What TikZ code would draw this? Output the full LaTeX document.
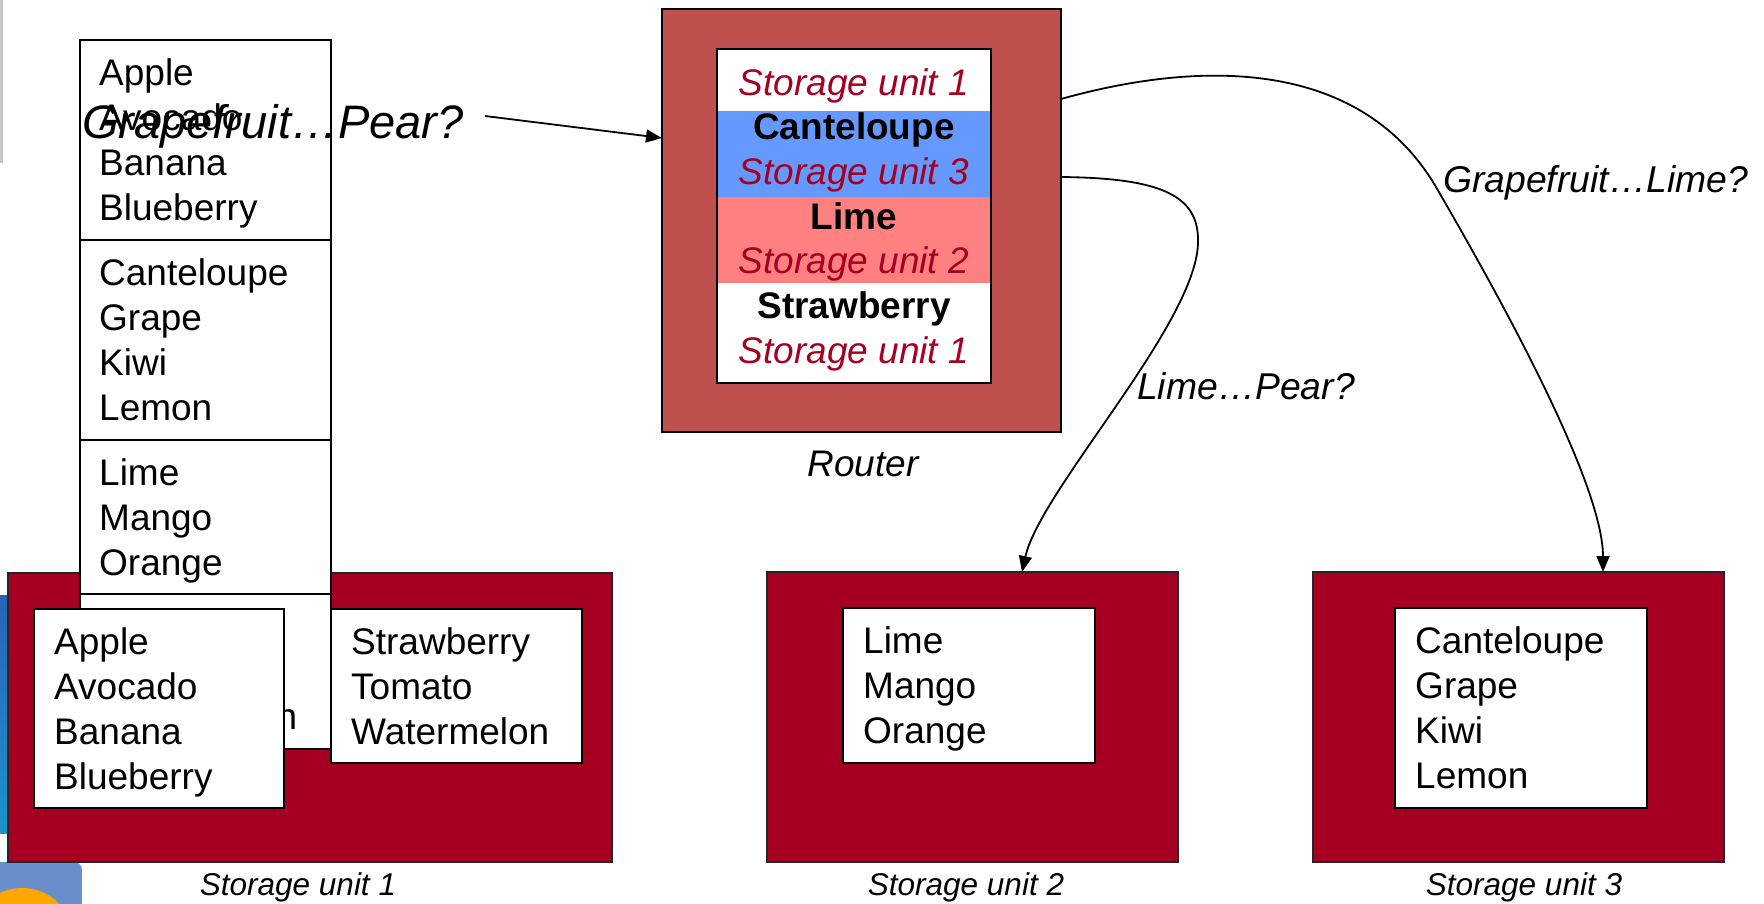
\documentclass[tikz,border=0pt]{standalone}
\usepackage{fontspec}
\setmainfont{Liberation Sans}
\usetikzlibrary{arrows.meta,calc}

\definecolor{unitred}{HTML}{A50021}
\definecolor{routerred}{HTML}{C0504D}
\definecolor{rowblue}{HTML}{6699FF}
\definecolor{rowpink}{HTML}{FF8080}
\definecolor{keyred}{HTML}{A50021}
\definecolor{iconblue}{HTML}{6A8DCB}
\definecolor{stripblue}{HTML}{2A63B5}

% left-aligned list whose baseline is that of its first line
\newcommand\fruitlist[1]{\vtop{\baselineskip=45pt\lineskiplimit=-100pt\lineskip=0pt
  \halign{##\hfil\cr#1\crcr}}}
% centred list for the routing table
\newcommand\routelist[1]{\vtop{\baselineskip=44.7pt\lineskiplimit=-100pt\lineskip=0pt
  \halign{\hfil##\hfil\cr#1\crcr}}}
\newcommand\unitkey[1]{\textcolor{keyred}{\itshape #1}}

\tikzset{
  panel/.style={anchor=north west, inner sep=0pt, outer sep=0pt},
  listbox/.style={panel, draw=black, line width=1.6pt, fill=white},
  unitbox/.style={panel, draw=black!85, line width=1.6pt, fill=unitred},
  band/.style={panel, draw=none},
  fruittext/.style={anchor=base west, inner sep=0pt, font=\fontsize{37}{45}\selectfont},
  caption/.style={anchor=base, inner sep=0pt, font=\fontsize{31.5}{38}\selectfont\itshape},
  edgelabel/.style={anchor=base west, inner sep=0pt, font=\fontsize{37.3}{44}\selectfont\itshape},
  conn/.style={line width=1.8pt, -{Triangle[length=16pt,width=13pt]}},
}

\begin{document}
\begin{tikzpicture}[x=1pt,y=-1pt]
\useasboundingbox (0,0) rectangle (1764,903);

% desktop fragments along the left edge
\fill[gray!45] (0,0) rectangle (3,163);
\shade[top color=stripblue, bottom color=stripblue!70!cyan] (0,595) rectangle (8,833);
\begin{scope}
  \clip[rounded corners=8pt] (-20,862) rectangle (82,940);
  \fill[iconblue] (-20,862) rectangle (82,940);
  \fill[orange!70!yellow] (22,940) circle (52pt);
  \fill[yellow!60!orange] (18,945) circle (40pt);
\end{scope}

% storage unit 1 housing
\node[unitbox, minimum width=604pt, minimum height=289pt] (su1) at (8,573) {};

% sorted key space, split into ranges
\node[listbox, minimum width=251pt, minimum height=200pt] (c1) at (80,40) {};
\node[listbox, minimum width=251pt, minimum height=200pt] (c2) at (80,240) {};
\node[listbox, minimum width=251pt, minimum height=154pt] (c3) at (80,440) {};
\node[listbox, minimum width=251pt, minimum height=155pt] (c4) at (80,594) {};
\node[fruittext] (t1) at (99,85) {\fruitlist{Apple\cr Avocado\cr Banana\cr Blueberry}};
\node[fruittext] (t2) at (99,285) {\fruitlist{Canteloupe\cr Grape\cr Kiwi\cr Lemon}};
\node[fruittext] (t3) at (99,485) {\fruitlist{Lime\cr Mango\cr Orange}};
\node[fruittext] (t4) at (99,639) {\fruitlist{Strawberry\cr Tomato\cr Watermelon}};

% contents of storage unit 1
\node[listbox, minimum width=250pt, minimum height=199pt] (s1a) at (34,609) {};
\node[fruittext] (s1at) at (54,654) {\fruitlist{Apple\cr Avocado\cr Banana\cr Blueberry}};
\node[listbox, minimum width=251pt, minimum height=154pt] (s1b) at (331,609) {};
\node[fruittext] (s1bt) at (351,654) {\fruitlist{Strawberry\cr Tomato\cr Watermelon}};
\node[caption] (cap1) at (298,895) {Storage unit 1};

% storage unit 2
\node[unitbox, minimum width=411pt, minimum height=290pt] (su2) at (767,572) {};
\node[listbox, minimum width=252pt, minimum height=155pt] (s2a) at (843,608) {};
\node[fruittext] (s2at) at (863,653) {\fruitlist{Lime\cr Mango\cr Orange}};
\node[caption] (cap2) at (966,895) {Storage unit 2};

% storage unit 3
\node[unitbox, minimum width=411pt, minimum height=290pt] (su3) at (1313,572) {};
\node[listbox, minimum width=252pt, minimum height=200pt] (s3a) at (1395,608) {};
\node[fruittext] (s3at) at (1415,653) {\fruitlist{Canteloupe\cr Grape\cr Kiwi\cr Lemon}};
\node[caption] (cap3) at (1524,895) {Storage unit 3};

% router with its routing table
\node[panel, draw=black, line width=1.4pt, fill=routerred, minimum width=399pt, minimum height=423pt] (router) at (662,9) {};
\node[listbox, minimum width=274pt, minimum height=334pt] (table) at (717,49) {};
\node[band, fill=rowblue, minimum width=274pt, minimum height=86pt] (rowb) at (717,111) {};
\node[band, fill=rowpink, minimum width=274pt, minimum height=86pt] (rowp) at (717,197) {};
\draw[line width=1.6pt] (table.north west) rectangle (table.south east);
\node[anchor=base, inner sep=0pt, font=\fontsize{37}{45}\selectfont] (tabletext) at (854,95)
  {\routelist{\unitkey{Storage unit 1}\cr \textbf{Canteloupe}\cr \unitkey{Storage unit 3}\cr
   \textbf{Lime}\cr \unitkey{Storage unit 2}\cr \textbf{Strawberry}\cr \unitkey{Storage unit 1}}};
\node[anchor=base, inner sep=0pt, font=\fontsize{37}{44}\selectfont\itshape] (routercap) at (863,476) {Router};

% query and forwarded requests
\node[anchor=base west, inner sep=0pt, font=\fontsize{47}{56}\selectfont\itshape] (query) at (82,138) {Grapefruit…Pear?};
\coordinate (querytail) at (485,116);
\draw[conn] (querytail) -- ([yshift=-129pt]router.north west);

\draw[conn] ([yshift=-90pt]router.north east)
  .. controls (1200,60) and (1360,58) .. (1436,187)
  .. controls (1490,280) and (1603,480) .. ([xshift=84.5pt]su3.north);
\node[edgelabel] (lab3) at (1443,192) {Grapefruit…Lime?};

\draw[conn] ([yshift=-168pt]router.north east)
  .. controls (1160,178) and (1198,195) .. (1198,240)
  .. controls (1200,320) and (1040,490) .. ([xshift=49.5pt]su2.north);
\node[edgelabel] (lab2) at (1137,399) {Lime…Pear?};
\end{tikzpicture}
\end{document}
